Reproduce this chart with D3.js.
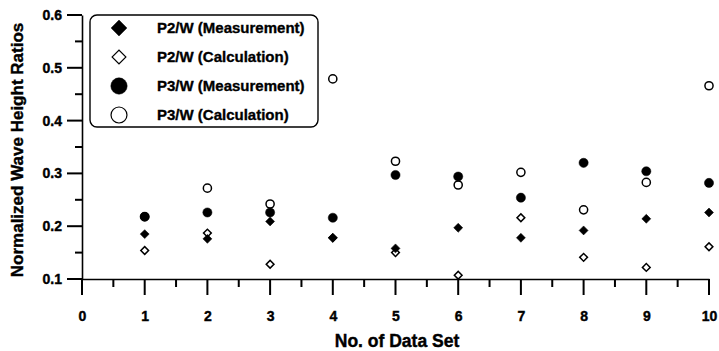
<!DOCTYPE html>
<html>
<head>
<meta charset="utf-8">
<script src="https://cdn.jsdelivr.net/npm/d3@7"></script>
<style>
  body { margin: 0; background: #fff; }
  svg { display: block; font-family: 'Liberation Sans', Arial, sans-serif; font-weight: bold; }
</style>
</head>
<body>
<svg id="chart"></svg>
<script>
// data sets 1..10
const dataSets = [1, 2, 3, 4, 5, 6, 7, 8, 9, 10];
const p2Meas = [0.185, 0.176, 0.209, 0.178, 0.158, 0.197, 0.178, 0.192, 0.214, 0.226];
const p2Calc = [0.154, 0.187, 0.128, 0.178, 0.150, 0.107, 0.216, 0.141, 0.122, 0.161];
const p3Meas = [0.218, 0.226, 0.226, 0.216, 0.297, 0.294, 0.254, 0.320, 0.304, 0.282];
const p3Calc = [0.218, 0.272, 0.242, 0.479, 0.323, 0.278, 0.302, 0.231, 0.283, 0.466];

const xTicks = [0, 1, 2, 3, 4, 5, 6, 7, 8, 9, 10];
const xMinor = [0.5, 1.5, 2.5, 3.5, 4.5, 5.5, 6.5, 7.5, 8.5, 9.5];
const yTicks = [0.1, 0.2, 0.3, 0.4, 0.5, 0.6];
const yMinor = [0.15, 0.25, 0.35, 0.45, 0.55];

const series = [
  { name: 'P2/W (Measurement)', values: p2Meas, shape: 'diamond', filled: true },
  { name: 'P2/W (Calculation)', values: p2Calc, shape: 'diamond', filled: false },
  { name: 'P3/W (Measurement)', values: p3Meas, shape: 'circle', filled: true },
  { name: 'P3/W (Calculation)', values: p3Calc, shape: 'circle', filled: false }
];

const width = 719, height = 351;
const margin = { top: 15, right: 10, bottom: 72, left: 82 };
const fontFamily = "'Liberation Sans', Arial, sans-serif";

const svg = d3.select('#chart')
  .attr('width', width)
  .attr('height', height)
  .attr('viewBox', [0, 0, width, height]);

const x = d3.scaleLinear([0, 10], [margin.left, 709]);
const y = d3.scaleLinear([0.1, 0.6], [279, margin.top]);

const styleAxis = (g) => {
  g.selectAll('.domain').attr('stroke', '#000').attr('stroke-width', 1.6);
  g.selectAll('.tick text')
    .attr('fill', '#000')
    .attr('font-size', 14)
    .attr('font-weight', 'bold')
    .attr('font-family', fontFamily)
    .attr('stroke', '#000')
    .attr('stroke-width', 0.4);
};

// axes: domain + labels
svg.append('g')
  .attr('transform', `translate(0,${y(0.1)})`)
  .call(d3.axisBottom(x).tickValues(xTicks).tickSize(0).tickPadding(32))
  .call(styleAxis);

svg.append('g')
  .attr('transform', `translate(${x(0)},0)`)
  .call(d3.axisLeft(y).tickValues(yTicks).tickSize(0).tickPadding(20).tickFormat(d3.format('.1f')))
  .call(styleAxis);

// axis titles
svg.append('text')
  .attr('x', 397).attr('y', 347)
  .attr('text-anchor', 'middle')
  .attr('font-size', 17.5)
  .attr('stroke', '#000').attr('stroke-width', 0.4)
  .text('No. of Data Set');

svg.append('text')
  .attr('transform', `translate(23,${150}) rotate(-90)`)
  .attr('text-anchor', 'middle')
  .attr('font-size', 17)
  .attr('stroke', '#000').attr('stroke-width', 0.4)
  .text('Normalized Wave Height Ratios');

function symbolPath(shape, area) {
  if (shape === 'diamond') return d3.symbol(d3.symbolSquare, area)();
  return d3.symbol(d3.symbolCircle, area)();
}

// points
series.forEach((s) => {
  const area = s.shape === 'diamond' ? (s.filled ? 40 : 30) : (s.filled ? 66 : 52);
  svg.append('g')
    .selectAll('path')
    .data(dataSets)
    .join('path')
    .attr('d', symbolPath(s.shape, area))
    .attr('transform', (d, i) => `translate(${x(d)},${y(s.values[i])})` + (s.shape === 'diamond' ? ' rotate(45)' : ''))
    .attr('fill', s.filled ? '#000' : 'none')
    .attr('stroke', '#000')
    .attr('stroke-width', s.filled ? 0.5 : 1.5);
});

// legend
const legend = svg.append('g');
legend.append('rect')
  .attr('x', 90).attr('y', 15)
  .attr('width', 228).attr('height', 112)
  .attr('rx', 7)
  .attr('fill', '#fff')
  .attr('stroke', '#000')
  .attr('stroke-width', 1.4);

const rows = legend.selectAll('g.row')
  .data(series)
  .join('g')
  .attr('class', 'row')
  .attr('transform', (d, i) => `translate(0,${28 + i * 29})`);

rows.append('path')
  .attr('d', (d) => symbolPath(d.shape, d.shape === 'diamond' ? (d.filled ? 125 : 95) : (d.filled ? 210 : 200)))
  .attr('transform', (d) => 'translate(119,0)' + (d.shape === 'diamond' ? ' rotate(45)' : ''))
  .attr('fill', (d) => (d.filled ? '#000' : 'none'))
  .attr('stroke', '#000')
  .attr('stroke-width', (d) => (d.filled ? 0.5 : 1.2));

rows.append('text')
  .attr('x', 157).attr('dy', '0.36em')
  .attr('font-size', 15)
  .attr('stroke', '#000').attr('stroke-width', 0.35)
  .text((d) => d.name);

// tick marks as filled rects, drawn last
const x0 = x(0), yb = y(0.1);
const xTickMarks = [...xTicks.map((v) => ({ v, len: 16 })), ...xMinor.map((v) => ({ v, len: 8 }))];
const yTickMarks = [...yTicks.map((v) => ({ v, len: 15 })), ...yMinor.map((v) => ({ v, len: 7 }))];
const ticks = svg.append('g').attr('fill', '#000');
ticks.selectAll('rect.xt')
  .data(xTickMarks)
  .join('rect')
  .attr('class', 'xt')
  .attr('x', (d) => x(d.v) - 1)
  .attr('y', yb)
  .attr('width', 2)
  .attr('height', (d) => d.len);
ticks.selectAll('rect.yt')
  .data(yTickMarks)
  .join('rect')
  .attr('class', 'yt')
  .attr('x', (d) => x0 - d.len)
  .attr('y', (d) => y(d.v) - 1)
  .attr('width', (d) => d.len)
  .attr('height', 2);
</script>
</body>
</html>
